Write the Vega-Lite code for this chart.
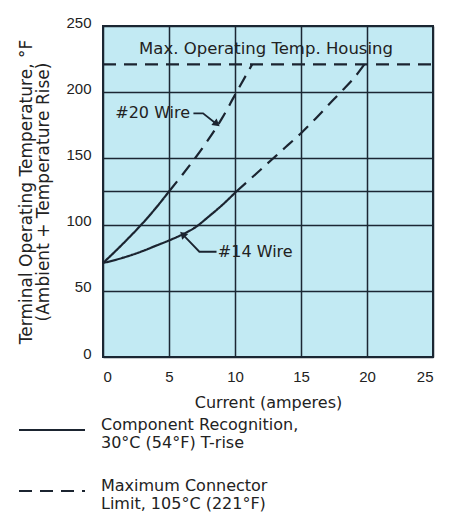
{
  "$schema": "https://vega.github.io/schema/vega-lite/v6.json",
  "width": 330,
  "height": 331,
  "autosize": "none",
  "padding": {"left": 103, "top": 26, "right": 20, "bottom": 157},
  "background": "#ffffff",
  "config": {
    "font": "DejaVu Sans",
    "view": {"fill": "#c2eaf3", "stroke": "#1b2733", "strokeWidth": 2},
    "axis": {"labelFont": "Liberation Sans", "titleFont": "DejaVu Sans", "labelColor": "#222222", "titleColor": "#222222", "titleFontWeight": "normal"},
    "legend": {"labelFont": "DejaVu Sans"}
  },
  "layer": [
    {
      "data": {"values": [{"t": 125}]},
      "mark": {"type": "rule", "color": "#1b2733", "strokeWidth": 1.5},
      "encoding": {"y": {"field": "t", "type": "quantitative", "scale": {"domain": [0, 250], "nice": false}}}
    },
    {
      "data": {"values": [
        {"part": "s1", "type": "Component Recognition, 30°C (54°F) T-rise", "x": 0, "y": 71},
        {"part": "s1", "type": "Component Recognition, 30°C (54°F) T-rise", "x": 1, "y": 80.5},
        {"part": "s1", "type": "Component Recognition, 30°C (54°F) T-rise", "x": 2, "y": 90.5},
        {"part": "s1", "type": "Component Recognition, 30°C (54°F) T-rise", "x": 3, "y": 101},
        {"part": "s1", "type": "Component Recognition, 30°C (54°F) T-rise", "x": 4, "y": 112.5},
        {"part": "s1", "type": "Component Recognition, 30°C (54°F) T-rise", "x": 5, "y": 125},
        {"part": "d1", "type": "Maximum Connector Limit, 105°C (221°F)", "x": 5, "y": 125},
        {"part": "d1", "type": "Maximum Connector Limit, 105°C (221°F)", "x": 6, "y": 137.5},
        {"part": "d1", "type": "Maximum Connector Limit, 105°C (221°F)", "x": 7, "y": 150.5},
        {"part": "d1", "type": "Maximum Connector Limit, 105°C (221°F)", "x": 8, "y": 164.5},
        {"part": "d1", "type": "Maximum Connector Limit, 105°C (221°F)", "x": 9, "y": 180},
        {"part": "d1", "type": "Maximum Connector Limit, 105°C (221°F)", "x": 10, "y": 198},
        {"part": "d1", "type": "Maximum Connector Limit, 105°C (221°F)", "x": 11.3, "y": 221},
        {"part": "s2", "type": "Component Recognition, 30°C (54°F) T-rise", "x": 0, "y": 71},
        {"part": "s2", "type": "Component Recognition, 30°C (54°F) T-rise", "x": 1, "y": 73.5},
        {"part": "s2", "type": "Component Recognition, 30°C (54°F) T-rise", "x": 2, "y": 76.5},
        {"part": "s2", "type": "Component Recognition, 30°C (54°F) T-rise", "x": 3, "y": 80},
        {"part": "s2", "type": "Component Recognition, 30°C (54°F) T-rise", "x": 4, "y": 84},
        {"part": "s2", "type": "Component Recognition, 30°C (54°F) T-rise", "x": 5, "y": 88},
        {"part": "s2", "type": "Component Recognition, 30°C (54°F) T-rise", "x": 6, "y": 92.5},
        {"part": "s2", "type": "Component Recognition, 30°C (54°F) T-rise", "x": 7, "y": 98},
        {"part": "s2", "type": "Component Recognition, 30°C (54°F) T-rise", "x": 8, "y": 106},
        {"part": "s2", "type": "Component Recognition, 30°C (54°F) T-rise", "x": 9, "y": 114.5},
        {"part": "s2", "type": "Component Recognition, 30°C (54°F) T-rise", "x": 10.1, "y": 125},
        {"part": "d2", "type": "Maximum Connector Limit, 105°C (221°F)", "x": 10.1, "y": 125},
        {"part": "d2", "type": "Maximum Connector Limit, 105°C (221°F)", "x": 11, "y": 133},
        {"part": "d2", "type": "Maximum Connector Limit, 105°C (221°F)", "x": 12, "y": 142},
        {"part": "d2", "type": "Maximum Connector Limit, 105°C (221°F)", "x": 13, "y": 151},
        {"part": "d2", "type": "Maximum Connector Limit, 105°C (221°F)", "x": 14, "y": 160},
        {"part": "d2", "type": "Maximum Connector Limit, 105°C (221°F)", "x": 15, "y": 169},
        {"part": "d2", "type": "Maximum Connector Limit, 105°C (221°F)", "x": 16, "y": 179},
        {"part": "d2", "type": "Maximum Connector Limit, 105°C (221°F)", "x": 17, "y": 189.5},
        {"part": "d2", "type": "Maximum Connector Limit, 105°C (221°F)", "x": 18, "y": 200},
        {"part": "d2", "type": "Maximum Connector Limit, 105°C (221°F)", "x": 19, "y": 210.5},
        {"part": "d2", "type": "Maximum Connector Limit, 105°C (221°F)", "x": 19.8, "y": 221},
        {"part": "h", "type": "Maximum Connector Limit, 105°C (221°F)", "x": 0, "y": 221},
        {"part": "h", "type": "Maximum Connector Limit, 105°C (221°F)", "x": 25, "y": 221}
      ]},
      "mark": {"type": "line", "color": "#1b2430", "strokeWidth": 2.2, "interpolate": "monotone"},
      "encoding": {
        "x": {"field": "x", "type": "quantitative", "scale": {"domain": [0, 25], "nice": false},
          "axis": {"values": [0, 5, 10, 15, 20, 25], "grid": true, "gridColor": "#1b2733", "gridWidth": 1.5, "gridOpacity": 1, "domain": false, "ticks": false, "labelFontSize": 15, "labelPadding": 12, "title": "Current (amperes)", "titleFontSize": 16, "titlePadding": 10}},
        "y": {"field": "y", "type": "quantitative", "scale": {"domain": [0, 250], "nice": false},
          "axis": {"values": [0, 50, 100, 150, 200, 250], "grid": true, "gridColor": "#1b2733", "gridWidth": 1.5, "gridOpacity": 1, "domain": false, "ticks": false, "labelFontSize": 15, "labelPadding": 12, "labelOffset": -4,
            "title": ["Terminal Operating Temperature, °F", "(Ambient + Temperature Rise)"], "titleFontSize": 17, "titleLineHeight": 17, "titlePadding": 13}},
        "detail": {"field": "part"},
        "strokeDash": {"field": "type", "type": "nominal",
          "scale": {"domain": ["Component Recognition, 30°C (54°F) T-rise", "Maximum Connector Limit, 105°C (221°F)"], "range": [[1, 0], [13, 8]]},
          "legend": {"title": null, "orient": "none", "legendX": -85, "legendY": 370, "direction": "vertical", "symbolType": "stroke", "symbolSize": 4356, "symbolStrokeWidth": 2, "symbolStrokeColor": "#1b2430", "labelFontSize": 16, "labelColor": "#222222", "labelOffset": 15, "labelLimit": 400, "rowPadding": 6, "labelBaseline": "alphabetic",
            "labelExpr": "datum.label == 'Component Recognition, 30°C (54°F) T-rise' ? ['Component Recognition,', '30°C (54°F) T-rise'] : ['Maximum Connector', 'Limit, 105°C (221°F)']"}}
      }
    },
    {
      "data": {"values": [
        {"lead": "a20", "x": 6.85, "y": 184},
        {"lead": "a20", "x": 7.58, "y": 184},
        {"lead": "a20", "x": 8.6, "y": 176},
        {"lead": "a14", "x": 8.6, "y": 79.5},
        {"lead": "a14", "x": 7.3, "y": 79.5},
        {"lead": "a14", "x": 6.2, "y": 91}
      ]},
      "mark": {"type": "line", "color": "#1b2430", "strokeWidth": 1.8},
      "encoding": {
        "x": {"field": "x", "type": "quantitative"},
        "y": {"field": "y", "type": "quantitative"},
        "detail": {"field": "lead"},
        "order": {"field": "x", "type": "quantitative"}
      }
    },
    {
      "data": {"values": [
        {"x": 8.55, "y": 176.5, "ang": 129},
        {"x": 6.1, "y": 92, "ang": 316}
      ]},
      "mark": {"type": "point", "shape": "triangle", "filled": true, "color": "#1b2430", "opacity": 1, "size": 70},
      "encoding": {
        "x": {"field": "x", "type": "quantitative"},
        "y": {"field": "y", "type": "quantitative"},
        "angle": {"field": "ang", "type": "quantitative", "scale": null}
      }
    },
    {
      "data": {"values": [{"label": "Max. Operating Temp. Housing", "x": 12.35, "y": 233}]},
      "mark": {"type": "text", "fontSize": 16.5, "color": "#222222", "baseline": "middle", "align": "center"},
      "encoding": {
        "x": {"field": "x", "type": "quantitative"},
        "y": {"field": "y", "type": "quantitative"},
        "text": {"field": "label"}
      }
    },
    {
      "data": {"values": [{"label": "#20 Wire", "x": 6.6, "y": 184.5}]},
      "mark": {"type": "text", "fontSize": 16, "color": "#222222", "baseline": "middle", "align": "right"},
      "encoding": {
        "x": {"field": "x", "type": "quantitative"},
        "y": {"field": "y", "type": "quantitative"},
        "text": {"field": "label"}
      }
    },
    {
      "data": {"values": [{"label": "#14 Wire", "x": 8.7, "y": 79.5}]},
      "mark": {"type": "text", "fontSize": 16, "color": "#222222", "baseline": "middle", "align": "left"},
      "encoding": {
        "x": {"field": "x", "type": "quantitative"},
        "y": {"field": "y", "type": "quantitative"},
        "text": {"field": "label"}
      }
    }
  ]
}
